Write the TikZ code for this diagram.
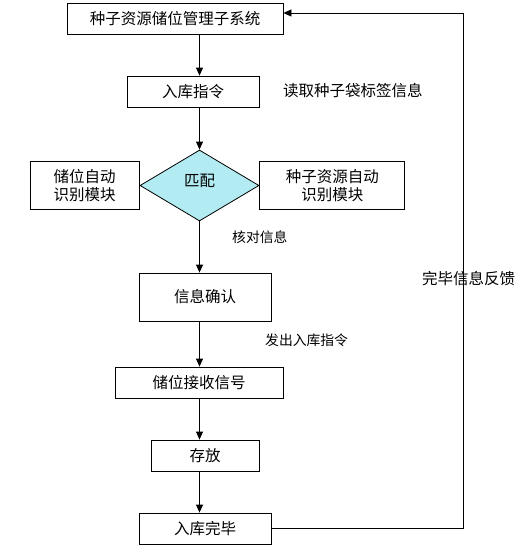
\documentclass[tikz,border=0pt]{standalone}
\usepackage{fontspec}
\newfontfamily\cjk{Noto Sans CJK SC}
\usepackage{tikz}
\usetikzlibrary{calc}
\usetikzlibrary{positioning}
\usetikzlibrary{shapes.geometric}
\usetikzlibrary{arrows.meta}
\usepackage{xcolor}
\definecolor{matchcyan}{RGB}{178,236,242}
\newcommand{\colorm}{matchcyan}
\newcommand{\bigtext}{\cjk\fontsize{15.5}{18}\selectfont}
\newcommand{\smalltext}{\cjk\fontsize{13.8}{16}\selectfont}

\begin{document}
\begin{tikzpicture}[x=1pt, y=-1pt,
    box/.style={draw, line width=.8pt, inner sep=0pt, align=center, font=\bigtext},
    lbl/.style={inner sep=0pt, anchor=west},
    arr/.style={line width=.8pt, -{Triangle[width=7pt,length=8pt]}}]
          \useasboundingbox (0,0) rectangle (519,549);

          \node[box, minimum width=216, minimum height=31] (sys) at (175,18.5) {种子资源储位管理子系统};
          \node[box, minimum width=132, minimum height=31] (cmd) at (193,91.5) {入库指令};
          \node[diamond, draw, line width=.8pt, fill=\colorm, inner sep=0pt,
                minimum width=119, minimum height=71, aspect=1.68] (match) at (199.5,185.5) {};
          \node[font=\bigtext, inner sep=0pt] (matchtxt) at (199.5,181) {匹配};
          \node[box, minimum width=109, minimum height=48, left=0pt of match.west] (slot) {储位自动\\识别模块};
          \node[box, minimum width=145, minimum height=48, right=0pt of match.east] (seed) {种子资源自动\\识别模块};
          \node[box, minimum width=132, minimum height=48] (confirm) at (205,297) {信息确认};
          \node[box, minimum width=168, minimum height=31] (recv) at (199,382.5) {储位接收信号};
          \node[box, minimum width=108, minimum height=31] (store) at (205,455.5) {存放};
          \node[box, minimum width=132, minimum height=31] (done) at (205,528.5) {入库完毕};

          \coordinate (fbtop) at (463,13);

          \draw[arr] (sys.south -| match.north) -- (cmd.north -| match.north);
          \draw[arr] (cmd.south -| match.north) -- (match.north);
          \draw[arr] (match.south) -- (confirm.north -| match.south);
          \draw[arr] (confirm.south -| match.south) -- (recv.north -| match.south);
          \draw[arr] (recv.south -| match.south) -- (store.north -| match.south);
          \draw[arr] (store.south -| match.south) -- (done.north -| match.south);
          \draw[arr] (done.east) -| (fbtop) -- (fbtop -| sys.east);

          \node[lbl, font=\bigtext] (readlbl) at (283,91) {读取种子袋标签信息};
          \node[lbl, font=\smalltext] (checklbl) at (232,237) {核对信息};
          \node[lbl, font=\smalltext] (sendlbl) at (265,340) {发出入库指令};
          \node[lbl, font=\bigtext] (fblbl) at (422,279) {完毕信息反馈};

        \end{tikzpicture}
\end{document}
